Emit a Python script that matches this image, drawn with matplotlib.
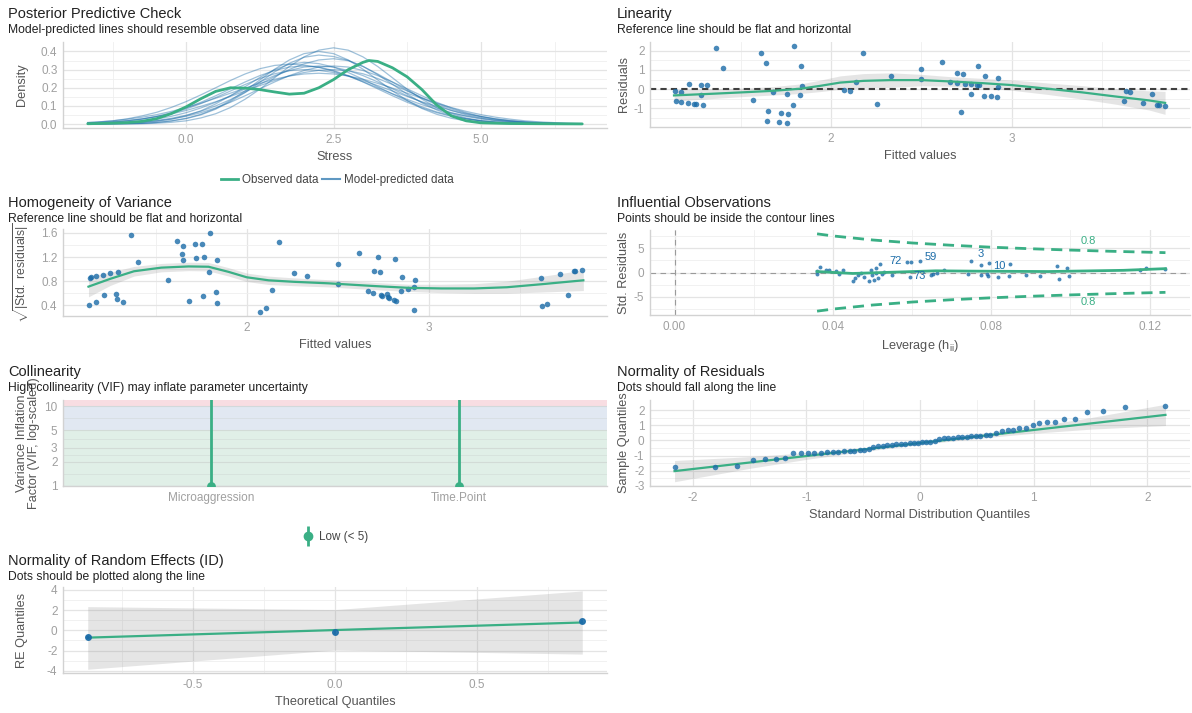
import matplotlib
matplotlib.use("Agg")
import matplotlib.pyplot as plt
import numpy as np
from matplotlib.lines import Line2D
from matplotlib.legend_handler import HandlerTuple
from matplotlib.ticker import FixedLocator, FixedFormatter, NullFormatter

# ---------------------------------------------------------------- data
# Posterior predictive check: density curves on a shared Stress grid
ppc_x = [-1.67, -1.5, -1.25, -1.0, -0.75, -0.5, -0.25, 0.0, 0.25, 0.5, 0.75, 1.0,
         1.25, 1.5, 1.75, 2.0, 2.25, 2.5, 2.75, 3.0, 3.25, 3.5, 3.75, 4.0, 4.25,
         4.5, 4.75, 5.0, 5.25, 5.5, 5.75, 6.0, 6.25, 6.5, 6.72]
predicted_density = [
    [.002, .004, .006, .011, .018, .028, .043, .063, .089, .120, .156, .194, .232, .267, .295, .314, .320, .314,
     .295, .267, .232, .194, .156, .120, .089, .063, .043, .028, .018, .011, .006, .004, .002, .002, .002],
    [.002, .006, .010, .017, .027, .041, .059, .083, .113, .146, .182, .218, .251, .277, .294, .300, .296, .284,
     .265, .240, .212, .182, .152, .123, .098, .075, .056, .041, .029, .020, .013, .009, .005, .003, .002],
    [.002, .002, .004, .007, .012, .020, .032, .049, .071, .100, .135, .175, .219, .261, .301, .332, .353, .360,
     .349, .318, .272, .219, .165, .117, .078, .049, .029, .016, .008, .004, .002, .002, .002, .002, .002],
    [.002, .002, .002, .002, .002, .005, .010, .018, .034, .057, .091, .137, .192, .255, .317, .370, .407, .420,
     .407, .370, .317, .255, .192, .137, .091, .057, .034, .018, .010, .005, .002, .002, .002, .002, .002],
    [.009, .012, .018, .027, .038, .052, .070, .091, .115, .142, .170, .198, .224, .247, .265, .276, .280, .276,
     .265, .247, .224, .198, .170, .142, .115, .091, .070, .052, .038, .027, .018, .012, .008, .005, .003],
    [.002, .002, .002, .004, .008, .015, .027, .046, .073, .111, .156, .206, .257, .300, .329, .340, .333, .314,
     .284, .247, .206, .166, .128, .095, .067, .046, .030, .019, .012, .007, .004, .002, .002, .002, .002],
    [.002, .002, .002, .002, .004, .009, .017, .030, .051, .082, .124, .174, .231, .287, .335, .368, .380, .372,
     .351, .317, .276, .231, .185, .143, .106, .075, .051, .034, .021, .013, .008, .004, .002, .002, .002],
    [.006, .009, .013, .020, .029, .041, .056, .075, .098, .123, .152, .182, .212, .240, .265, .284, .296, .300,
     .294, .277, .251, .218, .182, .146, .113, .083, .059, .041, .027, .017, .010, .006, .003, .002, .002],
    [.008, .011, .018, .029, .045, .065, .092, .124, .161, .200, .240, .276, .305, .323, .330, .325, .312, .291,
     .264, .233, .200, .167, .136, .107, .082, .061, .045, .032, .022, .015, .010, .006, .004, .002, .002],
    [.002, .002, .002, .002, .004, .009, .018, .032, .054, .086, .130, .183, .243, .302, .353, .388, .400, .388,
     .353, .302, .243, .183, .130, .086, .054, .032, .018, .009, .004, .002, .002, .002, .002, .002, .002],
    [.004, .006, .011, .018, .028, .043, .063, .089, .120, .156, .194, .232, .267, .295, .314, .320, .314, .295,
     .267, .232, .194, .156, .120, .089, .063, .043, .028, .018, .011, .006, .004, .002, .002, .002, .002],
    [.002, .002, .004, .006, .011, .018, .028, .043, .063, .089, .120, .156, .194, .232, .267, .295, .314, .320,
     .314, .295, .267, .232, .194, .156, .120, .089, .063, .043, .028, .018, .011, .006, .004, .002, .002],
]
obs_x = [-1.67, -1.25, -1.0, -0.75, -0.5, -0.25, 0.0, 0.25, 0.5, 0.75, 1.0, 1.25, 1.5, 1.75, 2.0,
         2.25, 2.5, 2.75, 3.0, 3.1, 3.25, 3.5, 3.75, 4.0, 4.25, 4.5, 4.75, 5.0, 5.5, 6.0, 6.72]
obs_y = [0.002, 0.005, 0.008, 0.015, 0.03, 0.058, 0.095, 0.14, 0.18, 0.2, 0.198, 0.19, 0.177, 0.165, 0.17,
         0.2, 0.245, 0.3, 0.34, 0.35, 0.345, 0.31, 0.26, 0.19, 0.105, 0.045, 0.018, 0.007, 0.003, 0.002, 0.001]

# Linearity: fitted values and residuals
fitted = [1.363, 1.404, 1.214, 1.28, 1.315, 1.133, 1.17, 1.278, 1.14, 1.17, 1.205, 1.243, 1.25, 1.29,
          1.613, 1.638, 1.797, 1.834, 1.839, 1.68, 1.758, 1.83, 1.566, 1.79, 1.649, 1.721, 1.764, 1.647,
          1.714, 1.755, 2.175, 2.33, 2.07, 2.105, 2.256, 2.50, 2.50, 2.14,
          2.614, 2.698, 2.73, 2.814, 2.66, 2.696, 2.739, 2.775, 2.808, 2.817, 2.852, 2.922, 2.922, 2.775,
          2.845, 2.886, 2.917, 2.722, 3.632, 3.656, 3.623, 3.73, 3.775, 3.806, 3.817, 3.852]
residuals = [2.17, 1.12, 0.29, 0.22, 0.19, -0.09, -0.17, -0.29, -0.64, -0.69, -0.72, -0.76, -0.76, -0.81,
             1.91, 1.38, 2.26, 1.19, 0.17, -0.17, -0.26, -0.33, -0.57, -0.81, -1.16, -1.24, -1.29, -1.67,
             -1.74, -1.78, 1.86, 0.71, -0.05, -0.09, -0.76, 1.03, 0.52, 0.38,
             1.43, 0.83, 0.79, 1.21, 0.36, 0.31, 0.28, 0.24, 0.22, 0.19, 0.66, 0.59, 0.09, -0.26,
             -0.34, -0.38, -0.41, -1.22, -0.09, -0.16, -0.62, -0.71, -0.26, -0.81, -0.81, -0.86]
lin_smooth_x = [1.13, 1.35, 1.53, 1.68, 1.83, 1.94, 2.05, 2.18, 2.33, 2.5, 2.66, 2.84, 3.0, 3.2, 3.39, 3.57, 3.76, 3.85]
lin_smooth_y = [-0.33, -0.24, -0.16, -0.09, 0.02, 0.17, 0.34, 0.43, 0.47, 0.47, 0.40, 0.31, 0.21, 0.02, -0.17, -0.38, -0.59, -0.72]
lin_smooth_se = [0.3, 0.25, 0.22, 0.22, 0.25, 0.3, 0.35, 0.38, 0.38, 0.3, 0.25, 0.25, 0.27, 0.3, 0.35, 0.4, 0.5, 0.6]

# Homogeneity of variance
hom_x = [1.366, 1.404, 1.137, 1.146, 1.174, 1.211, 1.248, 1.292, 1.215, 1.283, 1.285, 1.32, 1.174, 1.135,
         1.616, 1.649, 1.715, 1.752, 1.8, 1.642, 1.651, 1.721, 1.767, 1.837, 1.793, 1.568, 1.682, 1.76,
         1.83, 1.839, 2.176, 2.141, 2.259, 2.331, 2.073, 2.104, 2.5, 2.5,
         2.616, 2.724, 2.815, 2.702, 2.733, 2.853, 2.924, 2.664, 2.696, 2.738, 2.742, 2.773, 2.778, 2.782,
         2.811, 2.818, 2.847, 2.887, 2.92, 2.92, 3.616, 3.625, 3.651, 3.722, 3.767, 3.796, 3.805, 3.844]
hom_y = [1.567, 1.122, 0.861, 0.867, 0.883, 0.906, 0.928, 0.961, 0.572, 0.583, 0.5, 0.461, 0.456, 0.411,
         1.472, 1.378, 1.411, 1.422, 1.6, 1.25, 1.156, 1.189, 1.206, 1.156, 0.961, 0.817, 0.467, 0.556,
         0.628, 0.433, 1.45, 0.65, 0.939, 0.883, 0.289, 0.356, 1.078, 0.761,
         1.272, 1.194, 1.172, 0.972, 0.956, 0.872, 0.828, 0.639, 0.606, 0.567, 0.55, 0.583, 0.539, 0.522,
         0.483, 0.472, 0.639, 0.672, 0.706, 0.317, 0.85, 0.394, 0.428, 0.922, 0.567, 0.967, 0.972, 0.994]
hom_smooth_x = [1.13, 1.25, 1.38, 1.53, 1.68, 1.79, 1.9, 2.0, 2.12, 2.26, 2.45, 2.7, 2.89, 3.07, 3.25, 3.43, 3.62, 3.85]
hom_smooth_y = [0.71, 0.84, 0.965, 1.025, 1.045, 1.04, 0.955, 0.865, 0.815, 0.79, 0.765, 0.72, 0.69, 0.68, 0.68, 0.70, 0.75, 0.815]
hom_smooth_se = [0.17, 0.11, 0.08, 0.07, 0.07, 0.07, 0.07, 0.07, 0.07, 0.065, 0.06, 0.06, 0.06, 0.07, 0.08, 0.1, 0.13, 0.17]

# Influential observations
leverage = [0.036, 0.036, 0.0368, 0.0382, 0.0389, 0.0408, 0.0415, 0.0425, 0.045, 0.0457, 0.0463, 0.0471,
            0.0479, 0.049, 0.0496, 0.0498, 0.0504, 0.0508, 0.051, 0.0515, 0.0518, 0.0523, 0.0529, 0.055,
            0.0588, 0.0598, 0.0596, 0.0619, 0.0648, 0.0654, 0.0663, 0.0681, 0.0742, 0.075, 0.0773, 0.0775,
            0.0788, 0.0792, 0.0794, 0.0817, 0.0848, 0.0846, 0.0888, 0.0923, 0.0967, 0.0971, 0.0992, 0.0996,
            0.1176, 0.119, 0.1238]
std_resid = [0.34, -0.28, 1.24, 0.55, 0.55, 0.31, -0.23, 0.54, -1.77, -1.15, -0.54, 0.0, -0.85, -1.77,
             0.54, -0.62, -1.54, 0.92, 0.0, -1.15, 1.69, -0.38, 0.15, -0.46, 2.08, 2.08, -1.0, 2.46, -0.46,
             -0.23, 0.0, 0.54, -0.31, 2.46, 1.54, -0.46, -0.23, -0.77, 1.92, -0.85, 1.69, -0.77, -0.46,
             -0.77, 1.31, -1.38, 0.92, -0.77, 0.55, 1.03, 0.69]
labelled_points = [25, 27, 33, 40, 26]
labelled_ids = ["72", "59", "3", "10", "73"]
label_offsets = [(-16, 1), (11, 4), (9, 7), (-11, -2), (9, 1)]
inf_smooth_x = [0.036, 0.045, 0.0527, 0.066, 0.0754, 0.0944, 0.1134, 0.124]
inf_smooth_y = [0.2, -0.2, 0.0, 0.35, 0.28, 0.2, 0.45, 0.8]
contour_lev = [0.036, 0.04, 0.05, 0.06, 0.07, 0.08, 0.09, 0.10, 0.11, 0.124]
contour_res = [8.02, 7.59, 6.75, 6.13, 5.65, 5.25, 4.93, 4.65, 4.41, 4.12]

# Collinearity
terms = ["Microaggression", "Time.Point"]
vif = [1.0, 1.0]
vif_ci_high = [14.0, 14.0]

# Normality of residuals (QQ)
qq_theory = [-2.16, -1.80, -1.61, -1.47, -1.36, -1.27, -1.19, -1.12, -1.05, -0.99, -0.93, -0.87, -0.82,
             -0.77, -0.72, -0.67, -0.62, -0.58, -0.53, -0.49, -0.45, -0.41, -0.37, -0.33, -0.29, -0.25,
             -0.21, -0.17, -0.13, -0.09, -0.05, -0.02, 0.02, 0.05, 0.09, 0.13, 0.17, 0.21, 0.25, 0.29,
             0.33, 0.37, 0.41, 0.45, 0.49, 0.53, 0.58, 0.62, 0.67, 0.72, 0.77, 0.82, 0.87, 0.93, 0.99,
             1.05, 1.12, 1.19, 1.27, 1.36, 1.47, 1.61, 1.80, 2.16]
qq_line_x = [-2.16, 2.16]
qq_line_y = [-2.02, 1.68]
qq_band_x = [-2.16, -1.5, -1.0, -0.5, 0.0, 0.5, 1.0, 1.5, 2.16]
qq_band_lo = [-2.72, -1.84, -1.25, -0.73, -0.27, 0.13, 0.47, 0.74, 0.98]
qq_band_hi = [-1.32, -1.07, -0.81, -0.47, -0.07, 0.39, 0.91, 1.50, 2.38]

# Normality of random effects (ID)
re_theory = [-0.87, 0.0, 0.87]
re_values = [-0.67, -0.17, 0.9]
re_line_x = [-0.87, 0.87]
re_line_y = [-0.72, 0.78]
re_band_x = [-0.87, 0.0, 0.87]
re_band_lo = [-3.85, -1.95, -2.35]
re_band_hi = [2.35, 2.05, 3.9]

# ---------------------------------------------------------------- style
plt.rcParams['font.family'] = ['Liberation Sans', 'DejaVu Sans']
plt.rcParams['axes.unicode_minus'] = False
plt.rcParams['mathtext.fontset'] = 'custom'
plt.rcParams['mathtext.rm'] = 'Liberation Sans'
plt.rcParams['mathtext.it'] = 'Liberation Sans:italic'

GREEN = '#3aaf85'
BLUE = '#1b6ca8'
TICK_C = '#a0a0a0'
LAB_C = '#555555'
W, H = 1192, 713

fig = plt.figure(figsize=(W / 100, H / 100), dpi=100)


def panel(l, t, r, b):
    return fig.add_axes([l / W, 1 - b / H, (r - l) / W, (b - t) / H])


def style(ax, xmaj, xmin, ymaj, ymin, xfmt, yfmt):
    ax.set_facecolor('white')
    ax.xaxis.set_major_locator(FixedLocator(xmaj))
    ax.xaxis.set_minor_locator(FixedLocator(xmin))
    ax.yaxis.set_major_locator(FixedLocator(ymaj))
    ax.yaxis.set_minor_locator(FixedLocator(ymin))
    ax.xaxis.set_major_formatter(FixedFormatter([xfmt.format(v) for v in xmaj]))
    ax.yaxis.set_major_formatter(FixedFormatter([yfmt.format(v) for v in ymaj]))
    ax.xaxis.set_minor_formatter(NullFormatter())
    ax.yaxis.set_minor_formatter(NullFormatter())
    ax.grid(which='major', color='#e4e4e4', lw=0.9)
    ax.grid(which='minor', color='#efefef', lw=0.6)
    ax.set_axisbelow(True)
    for s in ('top', 'right'):
        ax.spines[s].set_visible(False)
    for s in ('left', 'bottom'):
        ax.spines[s].set_color('#d2d2d2')
        ax.spines[s].set_linewidth(1.0)
    ax.tick_params(which='both', length=0, labelsize=8.5, labelcolor=TICK_C, pad=4)


def labels(ax, xlabel, ylabel, ylab_px, x0, x1):
    ax.set_xlabel(xlabel, fontsize=9.2, color=LAB_C, labelpad=4)
    ax.set_ylabel(ylabel, fontsize=9.2, color=LAB_C)
    ax.yaxis.set_label_coords((ylab_px - x0) / (x1 - x0), 0.5)


def heading(x_px, y_px, title, subtitle):
    fig.text(x_px / W, 1 - y_px / H, title, fontsize=10.5, color='#222222', va='center')
    fig.text(x_px / W, 1 - (y_px + 16) / H, subtitle, fontsize=8.7, color='#222222', va='center')


LX0, LX1 = 63, 607
RX0, RX1 = 650, 1190

# ---------------------------------------------------------------- posterior predictive check
ax = panel(LX0, 42, LX1, 128)
style(ax, [0, 2.5, 5.0], [-1.25, 1.25, 3.75, 6.25], [0, 0.1, 0.2, 0.3, 0.4],
      [0.05, 0.15, 0.25, 0.35], '{:.1f}', '{:.1f}')
for dens in predicted_density:
    ax.plot(ppc_x, dens, color=BLUE, lw=0.9, alpha=0.42, zorder=2)
ax.plot(obs_x, obs_y, color=GREEN, lw=2.0, zorder=3, solid_capstyle='round')
ax.set_xlim(-2.09, 7.14)
ax.set_ylim(-0.0215, 0.452)
labels(ax, 'Stress', 'Density', 28, LX0, LX1)
heading(8, 14, 'Posterior Predictive Check', 'Model-predicted lines should resemble observed data line')
handles = [Line2D([], [], color=GREEN, lw=2.0), Line2D([], [], color=BLUE, lw=1.5, alpha=0.7)]
fig.legend(handles, ['Observed data', 'Model-predicted data'], loc='center',
           bbox_to_anchor=(337 / W, 1 - 180 / H), ncol=2, frameon=False, fontsize=8.4,
           handlelength=1.5, columnspacing=0.3, handletextpad=0.35, labelcolor='#444444')

# ---------------------------------------------------------------- linearity
ax = panel(RX0, 42, RX1, 127)
style(ax, [2, 3], [1.5, 2.5, 3.5], [-1, 0, 1, 2], [-1.5, -0.5, 0.5, 1.5], '{:d}', '{:d}')
ls_y = np.array(lin_smooth_y)
ls_se = np.array(lin_smooth_se)
ax.fill_between(lin_smooth_x, ls_y - ls_se, ls_y + ls_se, color='grey', alpha=0.2, lw=0, zorder=1)
ax.axhline(0, color='#404040', lw=1.5, ls=(0, (3, 2)), zorder=2)
ax.scatter(fitted, residuals, s=16, color=BLUE, alpha=0.8, lw=0, zorder=3)
ax.plot(lin_smooth_x, lin_smooth_y, color=GREEN, lw=1.6, zorder=4)
ax.set_xlim(0.997, 3.988)
ax.set_ylim(-1.98, 2.46)
labels(ax, 'Fitted values', 'Residuals', 630, RX0, RX1)
heading(617, 14, 'Linearity', 'Reference line should be flat and horizontal')

# ---------------------------------------------------------------- homogeneity of variance
ax = panel(LX0, 229, LX1, 316)
style(ax, [2, 3], [1.5, 2.5, 3.5], [0.4, 0.8, 1.2, 1.6], [0.6, 1.0, 1.4], '{:d}', '{:.1f}')
hs_y = np.array(hom_smooth_y)
hs_se = np.array(hom_smooth_se)
ax.fill_between(hom_smooth_x, hs_y - hs_se, hs_y + hs_se, color='grey', alpha=0.2, lw=0, zorder=1)
ax.scatter(hom_x, hom_y, s=16, color=BLUE, alpha=0.8, lw=0, zorder=3)
ax.plot(hom_smooth_x, hom_smooth_y, color=GREEN, lw=1.6, zorder=4)
ax.set_xlim(0.99, 3.98)
ax.set_ylim(0.223, 1.666)
ax.set_xlabel('Fitted values', fontsize=9.2, color=LAB_C, labelpad=4)
ax.set_ylabel(r'$\sqrt{|\mathrm{Std.\ residuals}|}$', fontsize=8.8, color=LAB_C)
ax.yaxis.set_label_coords((31 - LX0) / (LX1 - LX0), 0.5)
heading(8, 203, 'Homogeneity of Variance', 'Reference line should be flat and horizontal')

# ---------------------------------------------------------------- influential observations
ax = panel(RX0, 230, RX1, 315)
style(ax, [0.0, 0.04, 0.08, 0.12], [0.02, 0.06, 0.10], [-5, 0, 5], [-7.5, -2.5, 2.5, 7.5], '{:.2f}', '{:d}')
ax.axhline(0, color='#9a9a9a', lw=0.8, ls=(0, (5, 4)), zorder=1)
ax.axvline(0, color='#9a9a9a', lw=0.8, ls=(0, (5, 4)), zorder=1)
c_res = np.array(contour_res)
ax.plot(contour_lev, c_res, color=GREEN, lw=2.0, ls=(0, (4, 2.5)), zorder=2)
ax.plot(contour_lev, -c_res, color=GREEN, lw=2.0, ls=(0, (4, 2.5)), zorder=2)
ax.text(0.1044, 6.6, '0.8', color=GREEN, fontsize=8, ha='center', va='center')
ax.text(0.1044, -6.2, '0.8', color=GREEN, fontsize=8, ha='center', va='center')
ax.scatter(leverage, std_resid, s=8, color=BLUE, alpha=0.8, lw=0, zorder=3)
ax.plot(inf_smooth_x, inf_smooth_y, color=GREEN, lw=2.0, zorder=4)
for idx, txt, off in zip(labelled_points, labelled_ids, label_offsets):
    ax.annotate(txt, xy=(leverage[idx], std_resid[idx]), xytext=off, textcoords='offset pixels',
                color=BLUE, fontsize=8, ha='center', va='center', zorder=5)
ax.set_xlim(-0.0062, 0.1302)
ax.set_ylim(-8.82, 8.82)
labels(ax, r'Leverage (h$_{\mathrm{ii}}$)', 'Std. Residuals', 630, RX0, RX1)
heading(617, 203, 'Influential Observations', 'Points should be inside the contour lines')

# ---------------------------------------------------------------- collinearity
ax = panel(LX0, 400, LX1, 486)
ax.set_yscale('log')
style(ax, [1, 2], [], [1, 2, 3, 5, 10], [1.41, 2.45, 3.87, 7.07], '{}', '{:d}')
ax.xaxis.set_major_formatter(FixedFormatter(terms))
ax.grid(False)
ax.grid(axis='y', which='major', color='#c9cfcc', lw=0.8, alpha=0.6)
ax.grid(axis='y', which='minor', color='#c9cfcc', lw=0.5, alpha=0.5)
ax.axhspan(1, 5, color='#e0efe7', lw=0, zorder=0.2)
ax.axhspan(5, 10, color='#e1e8f2', lw=0, zorder=0.2)
ax.axhspan(10, 100, color='#f8dde2', lw=0, zorder=0.2)
pos = np.arange(1, len(terms) + 1)
ax.vlines(pos, vif, vif_ci_high, color=GREEN, lw=2.0, zorder=3)
ax.scatter(pos, vif, s=40, marker='o', color=GREEN, lw=0, zorder=4, clip_on=True)
ax.set_xlim(0.4, 2.6)
ax.set_ylim(1.0, 11.9)
ax.set_ylabel('Variance Inflation\nFactor (VIF, log-scaled)', fontsize=9.2, color=LAB_C, linespacing=0.95)
ax.yaxis.set_label_coords((40 - LX0) / (LX1 - LX0), 0.5)
glyph = (Line2D([], [], color=GREEN, marker='|', ms=14, mew=2.0, ls=''),
         Line2D([], [], color=GREEN, marker='o', ms=6, ls=''))
ax.legend([glyph], ['Low (< 5)'], loc='center', bbox_to_anchor=(0.5, -0.59), frameon=False,
          fontsize=8.4, handlelength=1.0, handletextpad=0.4, labelcolor='#444444',
          handler_map={tuple: HandlerTuple(ndivide=1)})
heading(8, 372, 'Collinearity', 'High collinearity (VIF) may inflate parameter uncertainty')

# ---------------------------------------------------------------- normality of residuals
ax = panel(RX0, 400, RX1, 486)
style(ax, [-2, -1, 0, 1, 2], [-1.5, -0.5, 0.5, 1.5], [-3, -2, -1, 0, 1, 2],
      [-2.5, -1.5, -0.5, 0.5, 1.5], '{:d}', '{:d}')
ax.fill_between(qq_band_x, qq_band_lo, qq_band_hi, color='grey', alpha=0.2, lw=0, zorder=1)
ax.plot(qq_line_x, qq_line_y, color=GREEN, lw=1.6, zorder=2)
ax.scatter(qq_theory, np.sort(residuals), s=16, color=BLUE, alpha=0.8, lw=0, zorder=3)
ax.set_xlim(-2.376, 2.376)
ax.set_ylim(-3.0, 2.66)
labels(ax, 'Standard Normal Distribution Quantiles', 'Sample Quantiles', 630, RX0, RX1)
heading(617, 372, 'Normality of Residuals', 'Dots should fall along the line')

# ---------------------------------------------------------------- normality of random effects
ax = panel(LX0, 587, LX1, 673)
style(ax, [-0.5, 0.0, 0.5], [-0.75, -0.25, 0.25, 0.75], [-4, -2, 0, 2, 4], [-3, -1, 1, 3], '{:.1f}', '{:d}')
ax.fill_between(re_band_x, re_band_lo, re_band_hi, color='grey', alpha=0.2, lw=0, zorder=1)
ax.plot(re_line_x, re_line_y, color=GREEN, lw=1.6, zorder=2)
ax.errorbar(re_theory, re_values, yerr=0.15, fmt='o', color=BLUE, ms=4, elinewidth=1.4,
            capsize=0, alpha=0.9, zorder=3)
ax.set_xlim(-0.957, 0.957)
ax.set_ylim(-4.22, 4.29)
labels(ax, 'Theoretical Quantiles', 'RE Quantiles', 28, LX0, LX1)
heading(8, 561, 'Normality of Random Effects (ID)', 'Dots should be plotted along the line')

fig.savefig('out.png', dpi=100)
